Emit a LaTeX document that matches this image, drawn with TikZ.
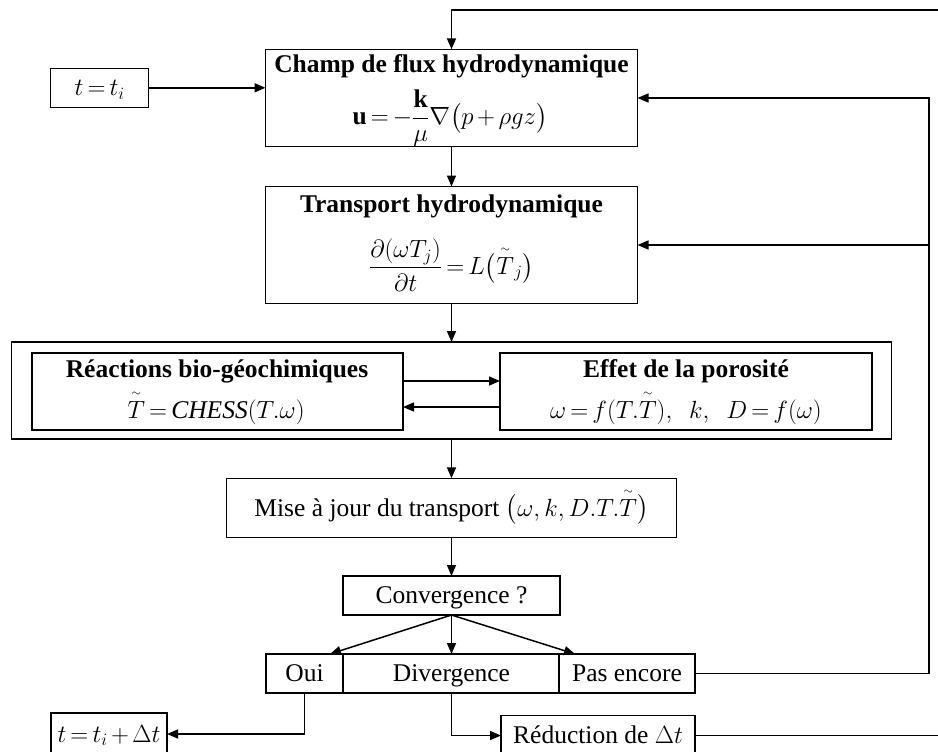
\documentclass[tikz,border=0pt]{standalone}
\usepackage{amsmath}
\usepackage{fontspec}
\setmainfont{Liberation Serif}
\usetikzlibrary{arrows.meta,calc}
\everymath{\thickmuskip=3mu plus 2mu\medmuskip=2.5mu plus 1mu}
\newcommand{\tT}{\overset{\scriptscriptstyle\sim}{T}}
\tikzset{
  bx/.style={draw=black, line width=1.5pt, inner sep=0pt, outer sep=0pt},
  frm/.style={font=\fontsize{25.5}{30}\selectfont, inner sep=0pt},
  lbl/.style={font=\fontsize{25.5}{30}\selectfont, inner sep=0pt, text height=18pt, text depth=2pt},
  ttl/.style={font=\fontsize{25.5}{30}\selectfont\bfseries, inner sep=0pt},
  conn/.style={line width=1.5pt, -{Triangle[length=11pt,width=9pt]}},
}
\begin{document}
\begin{tikzpicture}[x=1pt,y=-1pt]
\fill[white] (0,0) rectangle (938,752);
\useasboundingbox (0,0) rectangle (938,752);

% boxes
\node[bx, lbl, minimum width=98, minimum height=39] (ti) at (99.7,87.8) {$t=t_i$};

\node[bx, minimum width=372, minimum height=97.4] (champ) at (451.5,98) {};
\node[ttl, anchor=base] (champT) at (451.5,73) {Champ de flux hydrodynamique};
\node[frm] (champF) at (450,118) {$\mathbf{u}=-\dfrac{\mathbf{k}}{\mu}\nabla\bigl(p+\rho g z\bigr)$};

\node[bx, minimum width=372, minimum height=117] (trans) at (451.5,245) {};
\node[ttl, anchor=base] (transT) at (451.5,212.7) {Transport hydrodynamique};
\node[frm] (transF) at (451.5,265) {$\dfrac{\partial(\omega T_j)}{\partial t}=L\bigl(\tT_j\bigr)$};

\node[bx, minimum width=880, minimum height=97] (outer) at (451.5,390.5) {};
\node[bx, minimum width=371, minimum height=77] (reac) at (217.5,391.5) {};
\node[ttl, anchor=base] (reacT) at (217,377) {Réactions bio-géochimiques};
\node[frm, anchor=base] (reacF) at (216,418) {$\tT=\mathit{CHESS}(T.\omega)$};

\node[bx, minimum width=372, minimum height=77] (eff) at (686,391.5) {};
\node[ttl, anchor=base] (effT) at (686,377) {Effet de la porosité};
\node[frm, anchor=base] (effF) at (686,418) {$\omega=f(T.\tT),\ \ k,\ \ D=f(\omega)$};

\node[bx, lbl, minimum width=450, minimum height=59.4] (mise) at (451.5,508) {Mise à jour du transport $\bigl(\omega,k,D.T.\tT\bigr)$};

\node[bx, lbl, minimum width=217, minimum height=39] (conv) at (451.5,595.5) {Convergence ?};

\node[bx, lbl, minimum width=77, minimum height=39] (oui) at (304.5,673.5) {Oui};
\node[bx, lbl, minimum width=216, minimum height=39] (div) at (451.5,673.5) {Divergence};
\node[bx, lbl, minimum width=136, minimum height=39] (pas) at (627,673.5) {Pas encore};

\node[bx, lbl, minimum width=116, minimum height=42] (tdt) at (109,734) {$t=t_i+\Delta t$};
\node[bx, lbl, minimum width=194, minimum height=40] (red) at (598,735.5) {Réduction de $\Delta t$};

% connectors
\draw[conn] (ti.east) -- (champ.west |- ti.east);
\draw[conn] (champ.south) -- (trans.north);
\draw[conn] (trans.south) -- (outer.north);
\draw[conn] (reac.east |- 0,381) -- (eff.west |- 0,381);
\draw[conn] (eff.west |- 0,407) -- (reac.east |- 0,407);
\draw[conn] (outer.south) -- (mise.north);
\draw[conn] (mise.south) -- (conv.north);
\draw[conn] (conv.south) -- (div.north);
\draw[conn] (conv.south) -- ($(oui.north east)+(-13,0)$);
\draw[conn] (conv.south) -- ($(pas.north west)+(16,0)$);
\draw[conn] (oui.south) |- (tdt.east);
\draw[conn] (div.south) |- (red.west);

\coordinate (rtop) at (929,98);
\draw[conn] (pas.east) -| (rtop) -- (champ.east);
\draw[conn] (trans.east -| rtop) -- (trans.east);

\coordinate (otop) at (941,10);
\draw[conn] (red.east) -| (otop) -- (champ.north |- otop) -- (champ.north);
\end{tikzpicture}
\end{document}
